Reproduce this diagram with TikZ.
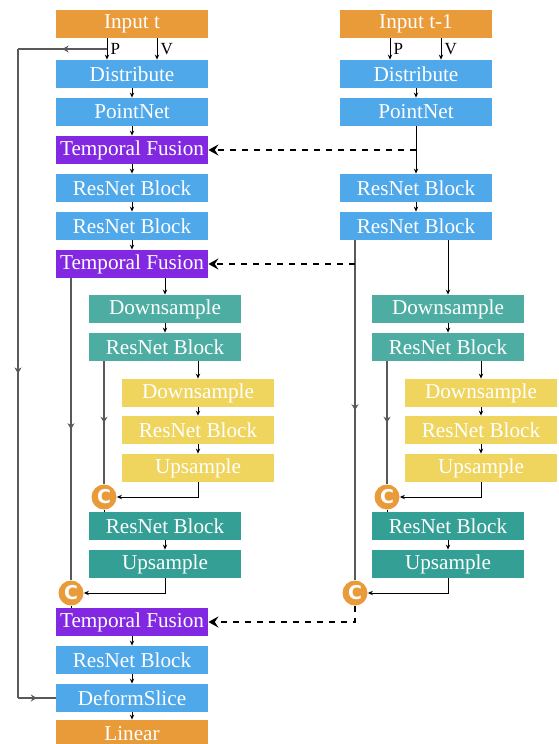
\documentclass[tikz,border=0pt]{standalone}
\usepackage{fontspec}
\setmainfont{Liberation Serif}
\newfontfamily\catfont{DejaVu Sans}
\usetikzlibrary{arrows.meta,decorations.markings}
\definecolor{inorange}{HTML}{E99B3A}
\definecolor{netblue}{HTML}{4FA8E9}
\definecolor{fusepurple}{HTML}{8228E3}
\definecolor{downteal}{HTML}{4DADA3}
\definecolor{upteal}{HTML}{339F95}
\definecolor{coreyellow}{HTML}{EFD55E}
\begin{document}
\begin{tikzpicture}[x=0.5pt, y=-0.5pt,
	block/.style={minimum width=76pt, minimum height=14pt, inner sep=0pt, text=white, font=\fontsize{10.6}{12}\selectfont},
	io/.style={block, fill=inorange},
	net/.style={block, fill=netblue},
	fuse/.style={block, fill=fusepurple},
	down/.style={block, fill=downteal},
	up/.style={block, fill=upteal},
	core/.style={block, fill=coreyellow},
	cat/.style={circle, fill=inorange, minimum size=12.5pt, inner sep=0pt, text=white, font=\catfont\bfseries\fontsize{9.5}{9.5}\selectfont},
	link/.style={-{Stealth[length=2.5pt,width=2.2pt]}, line width=0.5pt},
	plain/.style={line width=0.5pt},
	mid/.style={postaction={decorate}, decoration={markings, mark=at position 0.5 with {\arrow{Stealth[length=3pt,width=3.5pt]}}}},
	skip/.style={line width=0.8pt, black!65, mid},
	dashlink/.style={-{Stealth[length=5pt,width=5.5pt,inset=1.8pt]}, line width=1.1pt, dash pattern=on 3pt off 3pt},
	lab/.style={right, inner sep=1.5pt, font=\fontsize{8.5}{10}\selectfont}]
	\useasboundingbox (0,0) rectangle (558,744);
	
	% current frame
	\node[io] (in) at (132,24) {Input t};
	\node[net] (dl) at (132,74) {Distribute};
	\node[net] (pl) at (132,112) {PointNet};
	\node[fuse] (tfa) at (132,150) {Temporal Fusion};
	\node[net] (rla) at (132,188) {ResNet Block};
	\node[net] (rlb) at (132,226) {ResNet Block};
	\node[fuse] (tfb) at (132,264) {Temporal Fusion};
	\node[down] (dsl) at (165,309) {Downsample};
	\node[down] (rsl) at (165,347) {ResNet Block};
	\node[core] (ydl) at (198,393) {Downsample};
	\node[core] (yrl) at (198,430) {ResNet Block};
	\node[core] (yul) at (198,468) {Upsample};
	\node[cat] (cl1) at (104,497) {C};
	\node[up] (rul) at (165,526) {ResNet Block};
	\node[up] (usl) at (165,564) {Upsample};
	\node[cat] (cl2) at (71,593) {C};
	\node[fuse] (tfc) at (132,622) {Temporal Fusion};
	\node[net] (rlc) at (132,660) {ResNet Block};
	\node[net] (dfs) at (132,698) {DeformSlice};
	\node[io] (lin) at (132,734) {Linear};
	
	% previous frame
	\node[io] (inr) at (416,24) {Input t-1};
	\node[net] (dr) at (416,74) {Distribute};
	\node[net] (pr) at (416,112) {PointNet};
	\node[net] (rra) at (416,188) {ResNet Block};
	\node[net] (rrb) at (416,226) {ResNet Block};
	\node[down] (dsr) at (448,309) {Downsample};
	\node[down] (rsr) at (448,347) {ResNet Block};
	\node[core] (ydr) at (481,393) {Downsample};
	\node[core] (yrr) at (481,430) {ResNet Block};
	\node[core] (yur) at (481,468) {Upsample};
	\node[cat] (cr1) at (387,497) {C};
	\node[up] (rur) at (448,526) {ResNet Block};
	\node[up] (usr) at (448,564) {Upsample};
	\node[cat] (cr2) at (355,593) {C};
	
	\foreach \a/\b in {dl/pl, pl/tfa, tfa/rla, rla/rlb, rlb/tfb, dsl/rsl, ydl/yrl, yrl/yul, rul/usl, tfc/rlc, rlc/dfs, dfs/lin,
		dr/pr, pr/rra, rra/rrb, dsr/rsr, ydr/yrr, yrr/yur, rur/usr}
		\draw[link] (\a) -- (\b);
	
	% P and V
	\draw[link] ([xshift=-12.5pt]in.south) -- coordinate[pos=0.5] (lp) node[lab] {P} ([xshift=-12.5pt]dl.north);
	\draw[link] ([xshift=12.5pt]in.south) -- node[lab] {V} ([xshift=12.5pt]dl.north);
	\draw[link] ([xshift=-13pt]inr.south) -- node[lab] {P} ([xshift=-13pt]dr.north);
	\draw[link] ([xshift=12.5pt]inr.south) -- node[lab] {V} ([xshift=12.5pt]dr.north);
	
	% points loop
	\coordinate (lc1) at (18,49);
	\coordinate (lc2) at (18,698);
	\draw[skip] (lp) -- (lc1);
	\draw[skip] (lc1) -- (lc2);
	\draw[skip] (lc2) -- (dfs.west);
	
	% left unet
	\draw[link] (tfb.south -| dsl) -- (dsl);
	\draw[link] (rsl.south -| ydl) -- (ydl);
	\draw[skip] (rsl.south -| cl1) -- (cl1);
	\draw[link] (yul.south) |- (cl1);
	\draw[plain] (cl1) -- (cl1 |- rul.north);
	\draw[skip] (tfb.south -| cl2) -- (cl2);
	\draw[link] (usl.south) |- (cl2);
	\draw[plain] (cl2) -- (cl2 |- tfc.north);
	
	% right unet
	\draw[link] (rrb.south -| dsr) -- (dsr);
	\draw[link] (rsr.south -| ydr) -- (ydr);
	\draw[skip] (rsr.south -| cr1) -- (cr1);
	\draw[link] (yur.south) |- (cr1);
	\draw[plain] (cr1) -- (cr1 |- rur.north);
	\draw[skip] (rrb.south -| cr2) -- (cr2);
	\draw[link] (usr.south) |- (cr2);
	
	% fusion
	\draw[dashlink] (pr |- tfa) -- (tfa.east);
	\draw[dashlink] (cr2 |- tfb) -- (tfb.east);
	\draw[dashlink] (cr2) |- (tfc.east);
\end{tikzpicture}
\end{document}
